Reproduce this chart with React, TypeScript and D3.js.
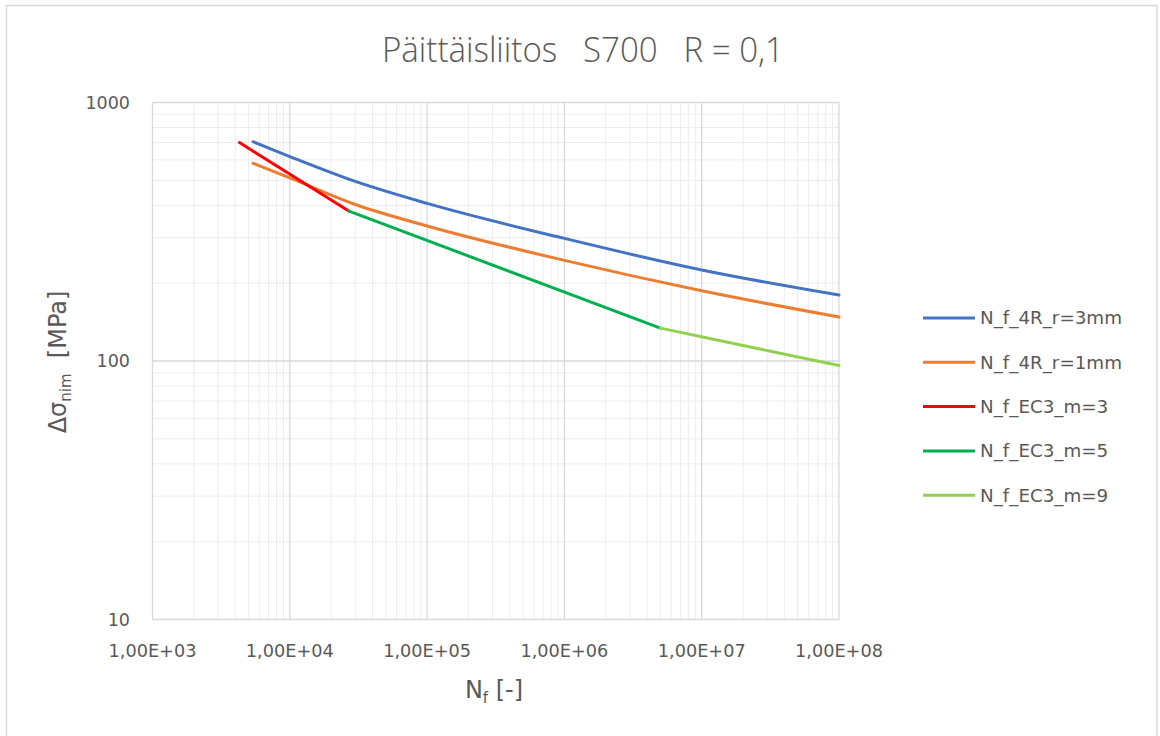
import React from "react";
import * as d3 from "d3";

const title = "Päittäisliitos   S700   R = 0,1";
const xTicks = [1e3, 1e4, 1e5, 1e6, 1e7, 1e8];
const xTickLabels = ["1,00E+03", "1,00E+04", "1,00E+05", "1,00E+06", "1,00E+07", "1,00E+08"];
const yTicks = [10, 100, 1000];
const yTickLabels = ["10", "100", "1000"];

const seriesNames = ["N_f_4R_r=3mm", "N_f_4R_r=1mm", "N_f_EC3_m=3", "N_f_EC3_m=5", "N_f_EC3_m=9"];
const seriesColors = ["#4472C4", "#ED7D31", "#FF0000", "#00B050", "#92D050"];

const blueN = [5400, 1e4, 3e4, 1e5, 1e6, 1e7, 1e8];
const blueS = [705, 618, 495, 407, 298, 225, 180];
const orangeN = [5400, 1e4, 3e4, 1e5, 1e6, 1e7, 1e8];
const orangeS = [582, 511, 403, 333, 245, 187, 148];
const redN = [4300, 26700];
const redS = [700, 381];
const greenN = [26700, 5e6];
const greenS = [381, 134];
const lightGreenN = [5e6, 1e8];
const lightGreenS = [134, 96];

const seriesN = [blueN, orangeN, redN, greenN, lightGreenN];
const seriesS = [blueS, orangeS, redS, greenS, lightGreenS];

export default function App() {
  const W = 1160, H = 736;
  const x = d3.scaleLog().domain([1e3, 1e8]).range([152.5, 839]);
  const y = d3.scaleLog().domain([10, 1000]).range([619.5, 102.5]);
  const txt = "#595959";
  const font = "'DejaVu Sans', sans-serif";

  const minorX: number[] = [];
  for (let d = 3; d < 8; d++) for (let k = 2; k <= 9; k++) minorX.push(k * Math.pow(10, d));
  const minorY: number[] = [];
  for (let d = 1; d < 3; d++) for (let k = 2; k <= 9; k++) minorY.push(k * Math.pow(10, d));

  const line = (curve: any) =>
    d3.line<[number, number]>().x(d => x(d[0])).y(d => y(d[1])).curve(curve);

  return (
    <svg width={W} height={H} style={{ position: "absolute", left: 0, top: 0, background: "#fff" }}>
      <rect x={6.5} y={5.5} width={1150.5} height={760} fill="#fff" stroke="#d9d9d9" strokeWidth={1.5} />
      <text x={583} y={62} textAnchor="middle" fontFamily="'Open Sans', sans-serif" fontWeight={300}
        fontSize={35} fill={txt} textLength={402} lengthAdjust="spacingAndGlyphs"
        style={{ whiteSpace: "pre" }}>{title}</text>

      {minorY.map((v, i) => (
        <line key={"my" + i} x1={x(1e3)} x2={x(1e8)} y1={y(v)} y2={y(v)} stroke="#ededed" strokeWidth={1} />
      ))}
      {minorX.map((v, i) => (
        <line key={"mx" + i} x1={x(v)} x2={x(v)} y1={y(10)} y2={y(1000)} stroke="#ededed" strokeWidth={1} />
      ))}
      {yTicks.map((v, i) => (
        <line key={"gy" + i} x1={x(1e3)} x2={x(1e8)} y1={y(v)} y2={y(v)} stroke="#d9d9d9" strokeWidth={1.3} />
      ))}
      {xTicks.map((v, i) => (
        <line key={"gx" + i} x1={x(v)} x2={x(v)} y1={y(10)} y2={y(1000)} stroke="#d9d9d9" strokeWidth={1.3} />
      ))}

      {seriesN.map((ns, si) => {
        const pts = ns.map((n, j) => [n, seriesS[si][j]] as [number, number]);
        return (
          <path key={"s" + si} d={line(si < 2 ? d3.curveMonotoneX : d3.curveLinear)(pts) || ""}
            fill="none" stroke={seriesColors[si]} strokeWidth={3} strokeLinecap="round" strokeLinejoin="round" />
        );
      })}

      {yTicks.map((v, i) => (
        <text key={"yl" + i} x={130} y={y(v)} dy="0.35em" textAnchor="end" fontFamily={font} fontSize={17.5} fill={txt}>
          {yTickLabels[i]}
        </text>
      ))}
      {xTicks.map((v, i) => (
        <text key={"xl" + i} x={x(v)} y={651} dy="0.35em" textAnchor="middle" fontFamily={font} fontSize={17.7} fill={txt}>
          {xTickLabels[i]}
        </text>
      ))}

      <text x={494} y={698} textAnchor="middle" fontFamily={font} fontSize={24} fill={txt} style={{ whiteSpace: "pre" }}>
        N<tspan fontSize={15} dy={5}>f</tspan><tspan dy={-5}>{" [-]"}</tspan>
      </text>
      <text transform="translate(66,362) rotate(-90)" textAnchor="middle" fontFamily={font} fontSize={24} fill={txt}
        style={{ whiteSpace: "pre" }}>
        Δσ<tspan fontSize={15} dy={5}>nim</tspan><tspan dy={-5}>{"  [MPa]"}</tspan>
      </text>

      {seriesNames.map((nm, i) => {
        const ly = 318 + i * 44.3;
        return (
          <g key={"lg" + i}>
            <line x1={923} x2={975} y1={ly} y2={ly} stroke={seriesColors[i]} strokeWidth={3} />
            <text x={980} y={ly} dy="0.35em" fontFamily={font} fontSize={18.3} fill={txt}>{nm}</text>
          </g>
        );
      })}
    </svg>
  );
}
